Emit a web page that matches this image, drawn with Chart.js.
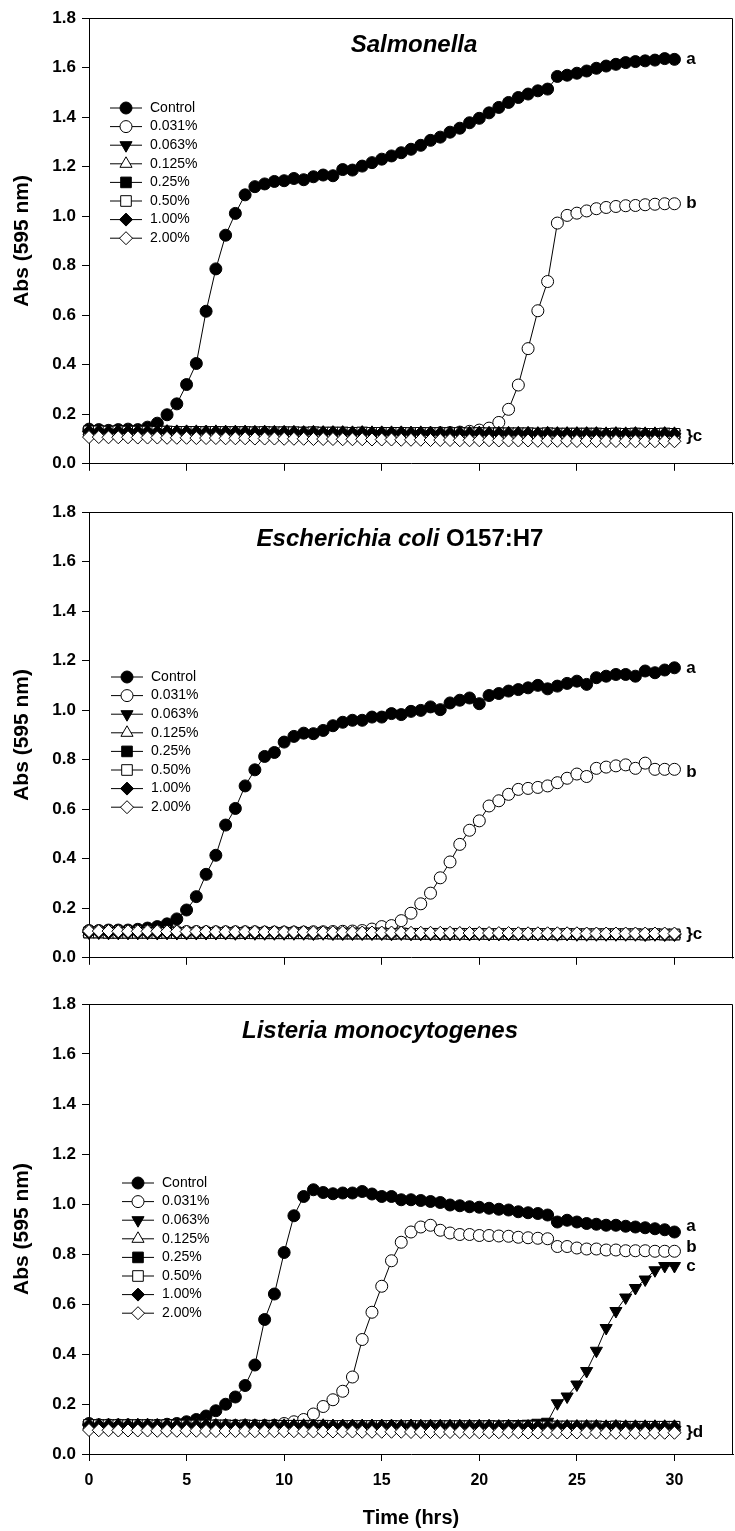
<!DOCTYPE html>
<html>
<head>
<meta charset="utf-8">
<title>Growth curves</title>
<script src="https://cdn.jsdelivr.net/npm/chart.js@4.4.0/dist/chart.umd.min.js"></script>
<style>
    html, body { margin: 0; padding: 0; background: #fff; }
    #page { position: relative; width: 735px; height: 1531px; overflow: hidden; }
    .panel { position: absolute; left: 0; width: 735px; }
    canvas { display: block; }
</style>
</head>
<body>
<div id="page">
    <div class="panel" style="top:0px"><canvas id="salChart" width="735" height="480"></canvas></div>
    <div class="panel" style="top:494px"><canvas id="ecoChart" width="735" height="480"></canvas></div>
    <div class="panel" style="top:986px"><canvas id="lisChart" width="735" height="545"></canvas></div>
</div>
<script>
// Czas pomiaru (h) i podziałki osi
const time = [0,0.5,1,1.5,2,2.5,3,3.5,4,4.5,5,5.5,6,6.5,7,7.5,8,8.5,9,9.5,10,10.5,11,11.5,12,12.5,13,13.5,14,14.5,15,15.5,16,16.5,17,17.5,18,18.5,19,19.5,20,20.5,21,21.5,22,22.5,23,23.5,24,24.5,25,25.5,26,26.5,27,27.5,28,28.5,29,29.5,30];
const xTicks = [0, 5, 10, 15, 20, 25, 30];
const yTicks = [0, 0.2, 0.4, 0.6, 0.8, 1.0, 1.2, 1.4, 1.6, 1.8];
const seriesLabels = ['Control', '0.031%', '0.063%', '0.125%', '0.25%', '0.50%', '1.00%', '2.00%'];

// Salmonella
const salControl = [0.140,0.138,0.135,0.138,0.140,0.138,0.148,0.164,0.198,0.242,
    0.320,0.405,0.616,0.787,0.923,1.011,1.086,1.119,1.130,1.140,
    1.143,1.152,1.147,1.159,1.166,1.163,1.188,1.186,1.202,1.216,
    1.230,1.243,1.256,1.270,1.286,1.306,1.319,1.339,1.355,1.377,
    1.395,1.417,1.439,1.459,1.479,1.493,1.506,1.513,1.564,1.569,
    1.577,1.586,1.597,1.606,1.613,1.620,1.624,1.627,1.630,1.636,1.633];
const sal031 = [0.132,0.131,0.130,0.130,0.129,0.130,0.129,0.128,0.129,0.128,
    0.128,0.127,0.128,0.127,0.127,0.126,0.127,0.126,0.126,0.125,
    0.126,0.125,0.125,0.125,0.124,0.125,0.124,0.124,0.124,0.123,
    0.124,0.123,0.124,0.123,0.123,0.124,0.125,0.126,0.128,0.131,
    0.136,0.144,0.167,0.220,0.318,0.465,0.618,0.736,0.972,1.003,
    1.012,1.021,1.030,1.035,1.039,1.042,1.043,1.046,1.048,1.050,1.050];
const salBase = [0.131,0.131,0.130,0.131,0.130,0.130,0.130,0.129,0.130,0.129,
    0.129,0.129,0.128,0.129,0.128,0.128,0.128,0.127,0.128,0.127,
    0.127,0.127,0.126,0.127,0.126,0.126,0.126,0.125,0.126,0.125,
    0.125,0.125,0.125,0.124,0.125,0.124,0.124,0.124,0.124,0.123,
    0.124,0.123,0.123,0.123,0.123,0.123,0.122,0.123,0.122,0.122,
    0.122,0.122,0.122,0.121,0.122,0.121,0.122,0.121,0.121,0.122,0.121];
const salOpen = [0.108,0.108,0.107,0.107,0.107,0.106,0.106,0.106,0.105,0.105,
    0.105,0.104,0.104,0.104,0.103,0.103,0.103,0.102,0.102,0.102,
    0.101,0.101,0.101,0.100,0.100,0.100,0.099,0.099,0.099,0.098,
    0.098,0.098,0.097,0.097,0.097,0.096,0.096,0.096,0.095,0.095,
    0.095,0.095,0.094,0.094,0.094,0.094,0.093,0.093,0.093,0.093,
    0.092,0.092,0.092,0.092,0.092,0.091,0.091,0.091,0.091,0.091,0.091];
const salLetters = ['a', 'b', '}c'];
const salLetterY = [1.633, 1.052, 0.113];

// Escherichia coli O157:H7
const ecoControl = [0.110,0.110,0.112,0.112,0.112,0.115,0.120,0.126,0.137,0.157,
    0.193,0.247,0.337,0.414,0.536,0.603,0.694,0.759,0.813,0.829,
    0.871,0.894,0.907,0.905,0.918,0.937,0.951,0.959,0.959,0.972,
    0.972,0.986,0.982,0.995,0.999,1.013,1.002,1.029,1.040,1.049,
    1.026,1.059,1.067,1.077,1.083,1.090,1.100,1.086,1.097,1.108,
    1.117,1.104,1.131,1.137,1.144,1.144,1.137,1.158,1.151,1.162,1.171];
const eco031 = [0.108,0.108,0.108,0.107,0.107,0.107,0.107,0.106,0.106,0.106,
    0.106,0.106,0.105,0.105,0.105,0.105,0.105,0.105,0.104,0.104,
    0.104,0.104,0.104,0.105,0.105,0.106,0.107,0.108,0.110,0.116,
    0.126,0.130,0.150,0.180,0.218,0.261,0.323,0.387,0.458,0.515,
    0.553,0.613,0.634,0.660,0.680,0.684,0.688,0.694,0.707,0.725,
    0.742,0.732,0.765,0.770,0.775,0.779,0.765,0.786,0.761,0.761,0.761];
const ecoBase = [0.102,0.102,0.101,0.101,0.101,0.101,0.101,0.100,0.101,0.100,
    0.100,0.100,0.100,0.100,0.100,0.099,0.100,0.099,0.099,0.099,
    0.099,0.099,0.099,0.098,0.099,0.098,0.098,0.098,0.098,0.098,
    0.098,0.097,0.098,0.097,0.097,0.097,0.097,0.097,0.097,0.096,
    0.097,0.096,0.096,0.096,0.096,0.096,0.096,0.096,0.095,0.096,
    0.095,0.095,0.095,0.095,0.095,0.095,0.095,0.094,0.095,0.094,0.094];
const ecoOpen = [0.108,0.108,0.108,0.107,0.107,0.107,0.107,0.107,0.106,0.106,
    0.106,0.106,0.106,0.105,0.105,0.105,0.105,0.105,0.104,0.104,
    0.104,0.104,0.104,0.103,0.103,0.103,0.103,0.103,0.102,0.102,
    0.102,0.102,0.102,0.101,0.101,0.101,0.101,0.101,0.100,0.100,
    0.100,0.100,0.100,0.100,0.099,0.099,0.099,0.099,0.099,0.099,
    0.099,0.098,0.098,0.098,0.098,0.098,0.098,0.098,0.098,0.098,0.098];
const ecoLetters = ['a', 'b', '}c'];
const ecoLetterY = [1.167, 0.748, 0.096];

// Listeria monocytogenes
const lisControl = [0.122,0.115,0.115,0.115,0.115,0.115,0.115,0.115,0.119,0.122,
    0.129,0.138,0.152,0.173,0.199,0.228,0.274,0.356,0.538,0.640,
    0.806,0.953,1.030,1.057,1.046,1.041,1.044,1.044,1.050,1.040,
    1.030,1.030,1.017,1.017,1.014,1.010,1.006,0.996,0.993,0.989,
    0.987,0.983,0.979,0.976,0.969,0.965,0.962,0.956,0.928,0.935,
    0.928,0.922,0.919,0.915,0.915,0.911,0.908,0.905,0.901,0.897,0.888];
const lis031 = [0.118,0.117,0.116,0.116,0.116,0.115,0.115,0.115,0.115,0.115,
    0.115,0.115,0.114,0.114,0.114,0.114,0.114,0.114,0.114,0.115,
    0.122,0.129,0.138,0.160,0.190,0.217,0.251,0.308,0.458,0.567,
    0.671,0.773,0.847,0.888,0.908,0.915,0.895,0.884,0.878,0.878,
    0.874,0.874,0.872,0.871,0.867,0.865,0.863,0.861,0.830,0.830,
    0.824,0.820,0.820,0.816,0.816,0.813,0.813,0.813,0.811,0.811,0.811];
const lis063 = [0.116,0.115,0.115,0.115,0.115,0.115,0.115,0.115,0.115,0.115,
    0.115,0.115,0.115,0.115,0.115,0.115,0.115,0.115,0.115,0.115,
    0.115,0.115,0.115,0.115,0.115,0.116,0.116,0.116,0.116,0.116,
    0.116,0.116,0.116,0.116,0.116,0.117,0.117,0.117,0.117,0.117,
    0.117,0.118,0.118,0.119,0.120,0.121,0.125,0.129,0.203,0.230,
    0.278,0.332,0.413,0.504,0.572,0.626,0.664,0.698,0.735,0.752,0.752];
const lisBase = [0.116,0.115,0.115,0.115,0.115,0.115,0.115,0.114,0.115,0.114,
    0.114,0.114,0.114,0.114,0.114,0.113,0.114,0.113,0.113,0.113,
    0.113,0.113,0.113,0.112,0.113,0.112,0.112,0.112,0.112,0.112,
    0.112,0.112,0.111,0.112,0.111,0.111,0.111,0.111,0.111,0.111,
    0.111,0.111,0.110,0.111,0.110,0.110,0.110,0.110,0.110,0.110,
    0.110,0.110,0.110,0.109,0.110,0.109,0.109,0.109,0.109,0.109,0.109];
const lisOpen = [0.096,0.095,0.095,0.094,0.094,0.094,0.094,0.093,0.093,0.093,
    0.093,0.093,0.092,0.092,0.092,0.092,0.092,0.091,0.091,0.091,
    0.091,0.091,0.090,0.090,0.090,0.090,0.090,0.090,0.089,0.089,
    0.089,0.089,0.089,0.088,0.088,0.088,0.088,0.088,0.088,0.087,
    0.087,0.087,0.087,0.087,0.087,0.086,0.086,0.086,0.086,0.086,
    0.086,0.086,0.086,0.085,0.085,0.085,0.085,0.085,0.085,0.085,0.085];
const lisLetters = ['a', 'b', 'c', '}d'];
const lisLetterY = [0.911, 0.827, 0.752, 0.088];

const FONT = '"Liberation Sans", Arial, sans-serif';
Chart.defaults.font.family = FONT;
Chart.defaults.color = '#000';

// Symbole serii (kółka, trójkąty, kwadraty, romby)
const markers = [
    { style: 'circle', fill: '#000', radius: 6, rotation: 0 },
    { style: 'circle', fill: '#fff', radius: 6, rotation: 0 },
    { style: 'triangle', fill: '#000', radius: 7, rotation: 180 },
    { style: 'triangle', fill: '#fff', radius: 7, rotation: 0 },
    { style: 'rect', fill: '#000', radius: 7.5, rotation: 0 },
    { style: 'rect', fill: '#fff', radius: 7.5, rotation: 0 },
    { style: 'rectRot', fill: '#000', radius: 6.5, rotation: 0 },
    { style: 'rectRot', fill: '#fff', radius: 6.5, rotation: 0 }
];

class GrowthPanel {
    constructor(canvasId, cfg) {
        this.cfg = cfg;
        this.canvas = document.getElementById(canvasId);
        this.initChart();
    }

    // ramka wokół obszaru wykresu
    framePlugin() {
        return {
            id: 'frame',
            beforeDatasetsDraw(chart) {
                const { left, top, right, bottom } = chart.chartArea;
                const ctx = chart.ctx;
                ctx.save();
                ctx.strokeStyle = '#000';
                ctx.lineWidth = 1;
                ctx.beginPath();
                ctx.moveTo(Math.round(left) + 0.5, Math.round(top) + 0.5);
                ctx.lineTo(Math.round(right) - 0.5, Math.round(top) + 0.5);
                ctx.lineTo(Math.round(right) - 0.5, Math.round(bottom) + 0.5);
                ctx.stroke();
                ctx.restore();
            }
        };
    }

    // tytuł panelu (kursywa + zwykły tekst)
    titlePlugin() {
        const cfg = this.cfg;
        return {
            id: 'panelTitle',
            afterDraw(chart) {
                const ctx = chart.ctx;
                ctx.save();
                const fonts = cfg.title.map(p => (p[1] ? 'italic ' : '') + 'bold 24px ' + FONT);
                const widths = cfg.title.map((p, i) => {
                    ctx.font = fonts[i];
                    return ctx.measureText(p[0]).width;
                });
                let x = cfg.titleX - widths.reduce((a, b) => a + b, 0) / 2;
                const y = chart.chartArea.top + 27;
                ctx.fillStyle = '#000';
                ctx.textBaseline = 'middle';
                cfg.title.forEach((p, i) => {
                    ctx.font = fonts[i];
                    ctx.fillText(p[0], x, y);
                    x += widths[i];
                });
                ctx.restore();
            }
        };
    }

    // legenda wewnątrz wykresu
    legendPlugin() {
        const cfg = this.cfg;
        return {
            id: 'insetLegend',
            afterDraw(chart) {
                const ctx = chart.ctx;
                const top = chart.chartArea.top + cfg.legendTop;
                const x0 = cfg.legendLeft;
                const len = 32;
                ctx.save();
                ctx.font = '14px ' + FONT;
                ctx.textBaseline = 'middle';
                chart.data.datasets.forEach((ds, i) => {
                    const y = top + i * 18.6;
                    ctx.strokeStyle = '#000';
                    ctx.lineWidth = 1;
                    ctx.beginPath();
                    ctx.moveTo(x0, y);
                    ctx.lineTo(x0 + len, y);
                    ctx.stroke();
                    ctx.fillStyle = ds.pointBackgroundColor;
                    Chart.helpers.drawPoint(ctx, {
                        pointStyle: ds.pointStyle,
                        rotation: ds.pointRotation,
                        radius: ds.pointRadius,
                        borderWidth: 1
                    }, x0 + len / 2, y);
                    ctx.fillStyle = '#000';
                    ctx.fillText(ds.label, x0 + len + 8, y);
                });
                ctx.restore();
            }
        };
    }

    // litery istotności przy końcach krzywych
    letterPlugin() {
        const cfg = this.cfg;
        return {
            id: 'letters',
            afterDraw(chart) {
                const ctx = chart.ctx;
                const xs = chart.scales.x;
                const ys = chart.scales.y;
                ctx.save();
                ctx.font = 'bold 17px ' + FONT;
                ctx.fillStyle = '#000';
                ctx.textBaseline = 'middle';
                cfg.letters.forEach((txt, i) => {
                    ctx.fillText(txt, xs.getPixelForValue(30.6), ys.getPixelForValue(cfg.letterY[i]));
                });
                ctx.restore();
            }
        };
    }

    buildDatasets() {
        return this.cfg.series.map((values, i) => ({
            label: seriesLabels[i],
            data: time.map((t, k) => ({ x: t, y: values[k] })),
            borderColor: '#000',
            borderWidth: 1,
            pointStyle: markers[i].style,
            pointRotation: markers[i].rotation,
            pointRadius: markers[i].radius,
            pointHoverRadius: markers[i].radius,
            pointBackgroundColor: markers[i].fill,
            pointBorderColor: '#000',
            pointBorderWidth: 1,
            tension: 0,
            fill: false,
            clip: false,
            order: seriesLabels.length - 1 - i
        }));
    }

    initChart() {
        try {
            const cfg = this.cfg;
            const axisGrid = { drawOnChartArea: false, drawTicks: true, tickLength: 7, color: '#000', lineWidth: 1 };
            const axisBorder = { display: true, color: '#000', width: 1 };

            this.chart = new Chart(this.canvas.getContext('2d'), {
                type: 'line',
                data: { datasets: this.buildDatasets() },
                options: {
                    responsive: false,
                    animation: false,
                    devicePixelRatio: 1,
                    events: [],
                    layout: { autoPadding: false, padding: { top: 18, right: 2, left: 0, bottom: 0 } },
                    plugins: {
                        legend: { display: false },
                        tooltip: { enabled: false }
                    },
                    scales: {
                        x: {
                            type: 'linear',
                            min: 0,
                            max: 33,
                            afterBuildTicks: s => { s.ticks = xTicks.map(v => ({ value: v })); },
                            afterFit: s => { s.height = cfg.xAxisHeight; },
                            grid: axisGrid,
                            border: axisBorder,
                            ticks: {
                                display: cfg.showXLabels,
                                padding: 10,
                                maxRotation: 0,
                                autoSkip: false,
                                font: { size: 16, weight: 'bold' }
                            },
                            title: {
                                display: cfg.showXLabels,
                                text: 'Time (hrs)',
                                font: { size: 20, weight: 'bold' },
                                padding: { top: 0, bottom: 1 }
                            }
                        },
                        y: {
                            type: 'linear',
                            min: 0,
                            max: 1.8,
                            afterBuildTicks: s => { s.ticks = yTicks.map(v => ({ value: v })); },
                            afterFit: s => { s.width = 89; },
                            grid: axisGrid,
                            border: axisBorder,
                            ticks: {
                                padding: 6,
                                font: { size: 17, weight: 'bold' },
                                callback: v => Number(v).toFixed(1)
                            },
                            title: {
                                display: true,
                                text: 'Abs (595 nm)',
                                font: { size: 21, weight: 'bold' },
                                padding: { top: 10, bottom: 0 }
                            }
                        }
                    }
                },
                plugins: [this.framePlugin(), this.titlePlugin(), this.legendPlugin(), this.letterPlugin()]
            });
        } catch (error) {
            console.error('Chart init failed:', error);
        }
    }
}

new GrowthPanel('salChart', {
    title: [['Salmonella', true]],
    titleX: 414,
    series: [salControl, sal031, salBase, salBase, salBase, salBase, salBase, salOpen],
    legendTop: 90,
    legendLeft: 110,
    letters: salLetters,
    letterY: salLetterY,
    showXLabels: false,
    xAxisHeight: 12
});

new GrowthPanel('ecoChart', {
    title: [['Escherichia coli ', true], ['O157:H7', false]],
    titleX: 400,
    series: [ecoControl, eco031, ecoBase, ecoBase, ecoBase, ecoBase, ecoBase, ecoOpen],
    legendTop: 165,
    legendLeft: 111,
    letters: ecoLetters,
    letterY: ecoLetterY,
    showXLabels: false,
    xAxisHeight: 12
});

new GrowthPanel('lisChart', {
    title: [['Listeria monocytogenes', true]],
    titleX: 380,
    series: [lisControl, lis031, lis063, lisBase, lisBase, lisBase, lisBase, lisOpen],
    legendTop: 179,
    legendLeft: 122,
    letters: lisLetters,
    letterY: lisLetterY,
    showXLabels: true,
    xAxisHeight: 77
});
</script>
</body>
</html>
